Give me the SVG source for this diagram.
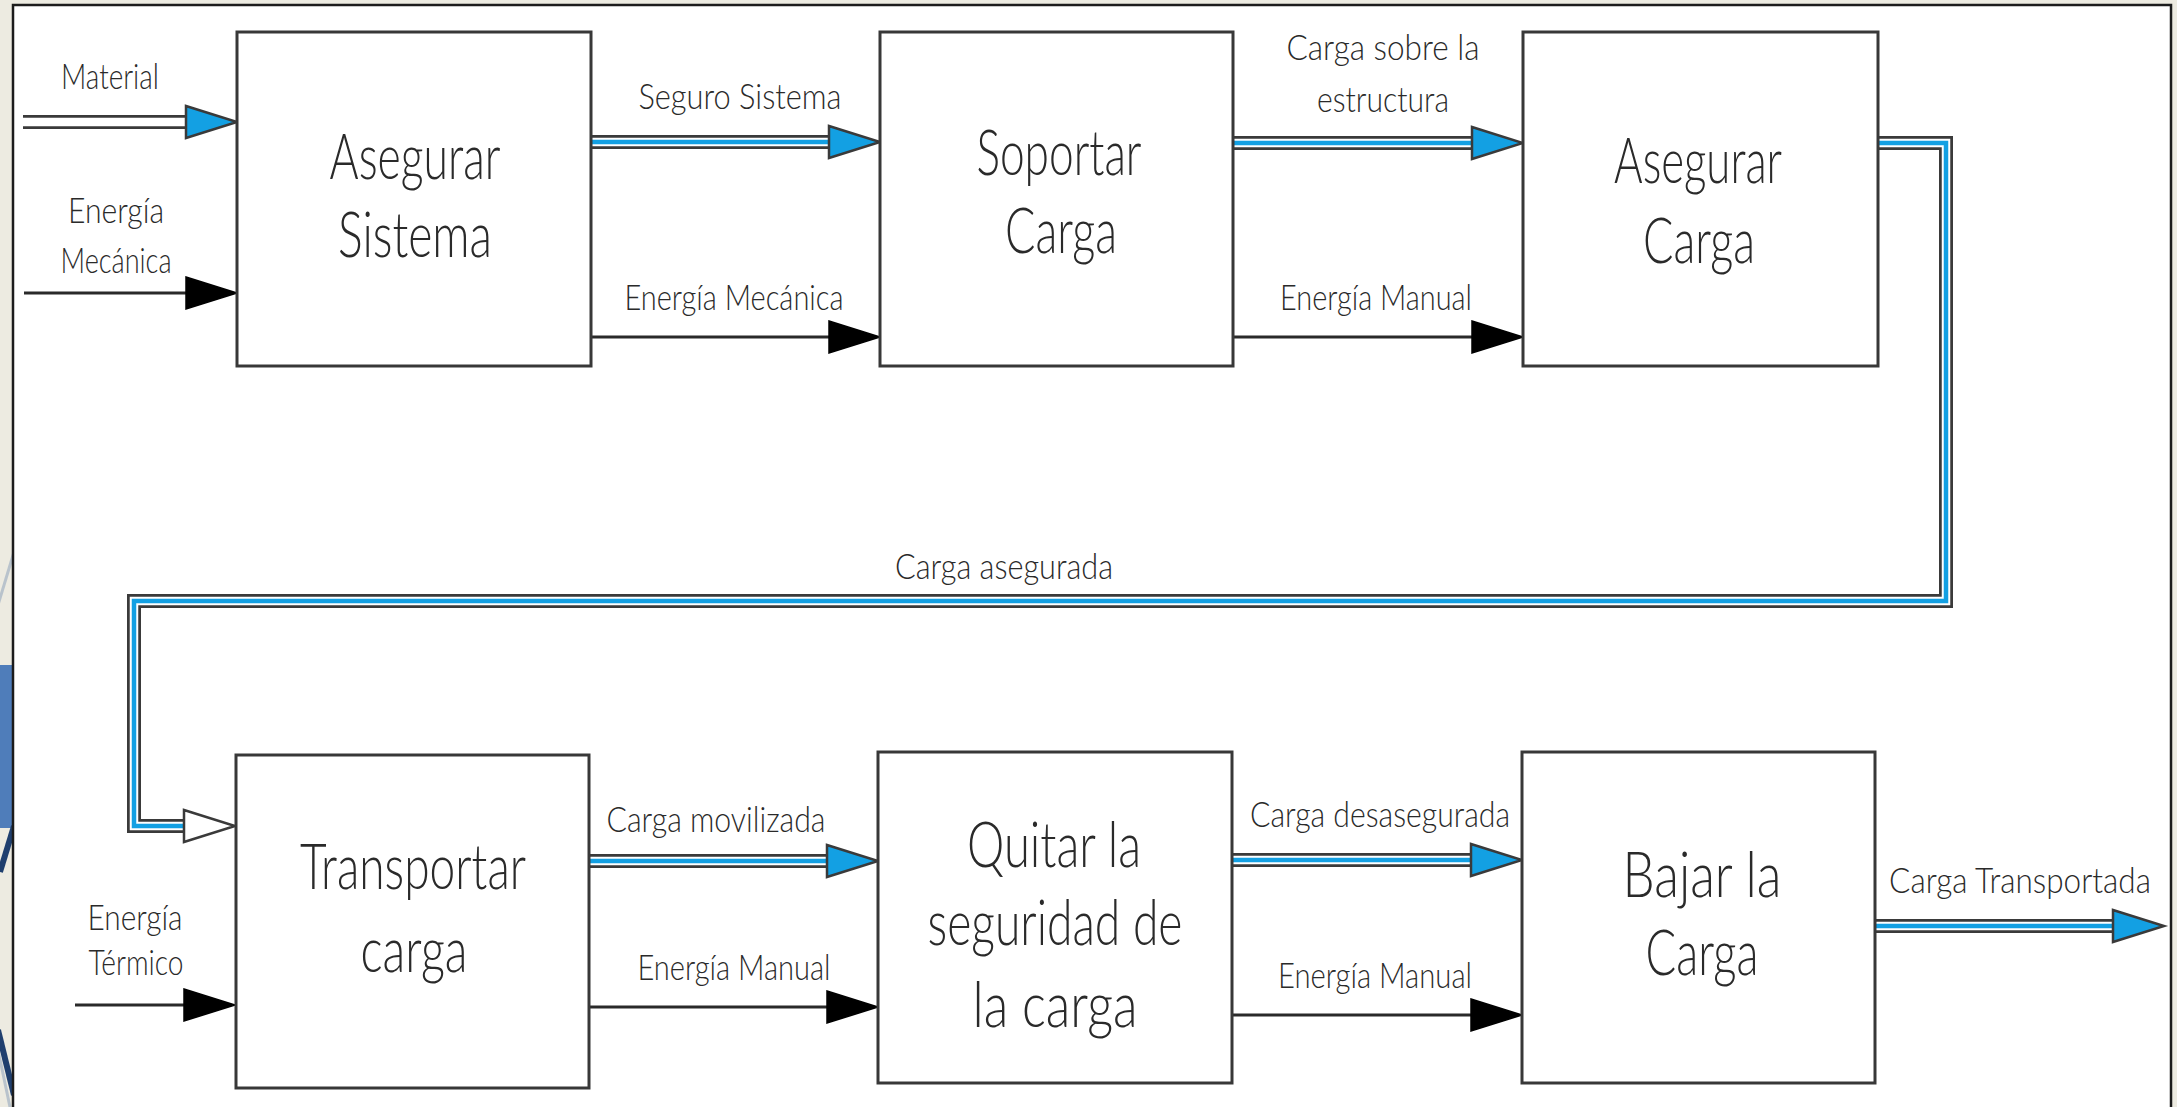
<svg xmlns="http://www.w3.org/2000/svg" xmlns:xlink="http://www.w3.org/1999/xlink" width="2177" height="1107" viewBox="0 0 2177 1107">
  <style>
    .box { fill: #ffffff; stroke: #383838; stroke-width: 3; }
    .big { font-family: Lato, "Liberation Sans", sans-serif; font-weight: 300; font-size: 64px; fill: #2a2a2a; text-anchor: middle; }
    .lbl { font-family: Lato, "Liberation Sans", sans-serif; font-weight: 300; font-size: 35px; fill: #2a2a2a; text-anchor: middle; }
    .flow-outer { fill: none; stroke: #3a3a3a; stroke-width: 14; stroke-linejoin: miter; }
    .flow-gap { fill: none; stroke: #ffffff; stroke-width: 8.5; stroke-linejoin: miter; }
    .flow-core { fill: none; stroke: #13a0e3; stroke-width: 4.5; stroke-linejoin: miter; }
    .energy { fill: none; stroke: #2a2a2a; stroke-width: 3; }
    .head-blue { fill: #13a0e3; stroke: #3a3a3a; stroke-width: 2.5; stroke-linejoin: miter; }
    .head-open { fill: #ffffff; stroke: #3a3a3a; stroke-width: 2.5; stroke-linejoin: miter; }
    .head-solid { fill: #000000; stroke: #000000; stroke-width: 1.5; }
  </style>
  <defs>
    <polygon id="head" points="0,-16 51,0 0,16"/>
    <path id="p-material" d="M23,122 H192"/>
    <path id="p-seguro" d="M591,142 H833"/>
    <path id="p-estructura" d="M1233,143 H1477"/>
    <path id="p-loop" d="M1878,143 H1946 V601 H134 V826 H188"/>
    <path id="p-movil" d="M589,861 H832"/>
    <path id="p-desaseg" d="M1232,860 H1475"/>
    <path id="p-transp" d="M1875,926 H2118"/>
    <clipPath id="strip"><rect x="0" y="0" width="13" height="1107"/></clipPath>
  </defs>

  <!-- page background and side strip -->
  <rect x="0" y="0" width="2177" height="1107" fill="#edebe1"/>
  <g clip-path="url(#strip)">
    <line x1="14" y1="552" x2="-2" y2="605" stroke="#b9c3cc" stroke-width="3"/>
    <rect x="0" y="665" width="13" height="163" fill="#4f7dba"/>
    <line x1="14" y1="826" x2="0" y2="872" stroke="#1f3f6e" stroke-width="6"/>
    <line x1="-2" y1="1030" x2="14" y2="1095" stroke="#1f3f6e" stroke-width="6"/>
    <line x1="-2" y1="1050" x2="10" y2="1107" stroke="#b9c3cc" stroke-width="3"/>
  </g>

  <!-- drawing sheet -->
  <rect x="13" y="5" width="2158" height="1120" fill="#ffffff" stroke="#1c1c1c" stroke-width="2.5"/>

  <!-- connectors -->
  <g id="connectors">
    <!-- material flows (double line) -->
    <use xlink:href="#p-material" class="flow-outer"/>
    <use xlink:href="#p-material" class="flow-gap"/>

    <use xlink:href="#p-seguro" class="flow-outer"/>
    <use xlink:href="#p-seguro" class="flow-gap"/>
    <use xlink:href="#p-seguro" class="flow-core"/>

    <use xlink:href="#p-estructura" class="flow-outer"/>
    <use xlink:href="#p-estructura" class="flow-gap"/>
    <use xlink:href="#p-estructura" class="flow-core"/>

    <use xlink:href="#p-loop" class="flow-outer"/>
    <use xlink:href="#p-loop" class="flow-gap"/>
    <use xlink:href="#p-loop" class="flow-core"/>

    <use xlink:href="#p-movil" class="flow-outer"/>
    <use xlink:href="#p-movil" class="flow-gap"/>
    <use xlink:href="#p-movil" class="flow-core"/>

    <use xlink:href="#p-desaseg" class="flow-outer"/>
    <use xlink:href="#p-desaseg" class="flow-gap"/>
    <use xlink:href="#p-desaseg" class="flow-core"/>

    <use xlink:href="#p-transp" class="flow-outer"/>
    <use xlink:href="#p-transp" class="flow-gap"/>
    <use xlink:href="#p-transp" class="flow-core"/>

    <!-- energy flows (single line) -->
    <path class="energy" d="M24,293 H188"/>
    <path class="energy" d="M591,337 H830"/>
    <path class="energy" d="M1233,337 H1474"/>
    <path class="energy" d="M75,1005 H186"/>
    <path class="energy" d="M589,1007 H829"/>
    <path class="energy" d="M1232,1015 H1472"/>

    <!-- arrowheads -->
    <use xlink:href="#head" class="head-blue" transform="translate(186,122)"/>
    <use xlink:href="#head" class="head-blue" transform="translate(829,142)"/>
    <use xlink:href="#head" class="head-blue" transform="translate(1472,143)"/>
    <use xlink:href="#head" class="head-open" transform="translate(184,826)"/>
    <use xlink:href="#head" class="head-blue" transform="translate(827,861)"/>
    <use xlink:href="#head" class="head-blue" transform="translate(1471,860)"/>
    <use xlink:href="#head" class="head-blue" transform="translate(2113,926)"/>

    <use xlink:href="#head" class="head-solid" transform="translate(186,293)"/>
    <use xlink:href="#head" class="head-solid" transform="translate(829,337)"/>
    <use xlink:href="#head" class="head-solid" transform="translate(1472,337)"/>
    <use xlink:href="#head" class="head-solid" transform="translate(184,1005)"/>
    <use xlink:href="#head" class="head-solid" transform="translate(827,1007)"/>
    <use xlink:href="#head" class="head-solid" transform="translate(1471,1015)"/>
  </g>

  <!-- function blocks -->
  <g id="asegurar-sistema">
    <rect class="box" x="237" y="32" width="354" height="334"/>
    <text class="big" x="415" y="179" textLength="171" lengthAdjust="spacingAndGlyphs">Asegurar</text>
    <text class="big" x="415" y="257" textLength="154" lengthAdjust="spacingAndGlyphs">Sistema</text>
  </g>
  <g id="soportar-carga">
    <rect class="box" x="880" y="32" width="353" height="334"/>
    <text class="big" x="1059" y="175" textLength="165" lengthAdjust="spacingAndGlyphs">Soportar</text>
    <text class="big" x="1061" y="253" textLength="112" lengthAdjust="spacingAndGlyphs">Carga</text>
  </g>
  <g id="asegurar-carga">
    <rect class="box" x="1523" y="32" width="355" height="334"/>
    <text class="big" x="1698" y="183" textLength="168" lengthAdjust="spacingAndGlyphs">Asegurar</text>
    <text class="big" x="1699" y="263" textLength="112" lengthAdjust="spacingAndGlyphs">Carga</text>
  </g>
  <g id="transportar-carga">
    <rect class="box" x="236" y="755" width="353" height="333"/>
    <text class="big" x="413" y="889" textLength="226" lengthAdjust="spacingAndGlyphs">Transportar</text>
    <text class="big" x="414" y="972" textLength="107" lengthAdjust="spacingAndGlyphs">carga</text>
  </g>
  <g id="quitar-seguridad">
    <rect class="box" x="878" y="752" width="354" height="331"/>
    <text class="big" x="1054" y="867" textLength="174" lengthAdjust="spacingAndGlyphs">Quitar la</text>
    <text class="big" x="1055" y="945" textLength="255" lengthAdjust="spacingAndGlyphs">seguridad de</text>
    <text class="big" x="1055" y="1027" textLength="165" lengthAdjust="spacingAndGlyphs">la carga</text>
  </g>
  <g id="bajar-carga">
    <rect class="box" x="1522" y="752" width="353" height="331"/>
    <text class="big" x="1702" y="897" textLength="159" lengthAdjust="spacingAndGlyphs">Bajar la</text>
    <text class="big" x="1702" y="975" textLength="113" lengthAdjust="spacingAndGlyphs">Carga</text>
  </g>

  <!-- flow labels -->
  <g id="flow-labels">
    <text class="lbl" x="110" y="89" textLength="98" lengthAdjust="spacingAndGlyphs">Material</text>
    <text class="lbl" x="116" y="223" textLength="96" lengthAdjust="spacingAndGlyphs">Energía</text>
    <text class="lbl" x="116" y="273" textLength="111" lengthAdjust="spacingAndGlyphs">Mecánica</text>
    <text class="lbl" x="740" y="109" textLength="203" lengthAdjust="spacingAndGlyphs">Seguro Sistema</text>
    <text class="lbl" x="734" y="310" textLength="219" lengthAdjust="spacingAndGlyphs">Energía Mecánica</text>
    <text class="lbl" x="1383" y="60" textLength="193" lengthAdjust="spacingAndGlyphs">Carga sobre la</text>
    <text class="lbl" x="1383" y="112" textLength="132" lengthAdjust="spacingAndGlyphs">estructura</text>
    <text class="lbl" x="1376" y="310" textLength="192" lengthAdjust="spacingAndGlyphs">Energía Manual</text>
    <text class="lbl" x="1004" y="579" textLength="218" lengthAdjust="spacingAndGlyphs">Carga asegurada</text>
    <text class="lbl" x="135" y="930" textLength="95" lengthAdjust="spacingAndGlyphs">Energía</text>
    <text class="lbl" x="136" y="975" textLength="95" lengthAdjust="spacingAndGlyphs">Térmico</text>
    <text class="lbl" x="716" y="832" textLength="219" lengthAdjust="spacingAndGlyphs">Carga movilizada</text>
    <text class="lbl" x="734" y="980" textLength="193" lengthAdjust="spacingAndGlyphs">Energía Manual</text>
    <text class="lbl" x="1380" y="827" textLength="260" lengthAdjust="spacingAndGlyphs">Carga desasegurada</text>
    <text class="lbl" x="1375" y="988" textLength="194" lengthAdjust="spacingAndGlyphs">Energía Manual</text>
    <text class="lbl" font-size="33" transform="translate(2020,893) scale(0.9,1)" x="0" y="0">Carga Transportada</text>
  </g>
</svg>
